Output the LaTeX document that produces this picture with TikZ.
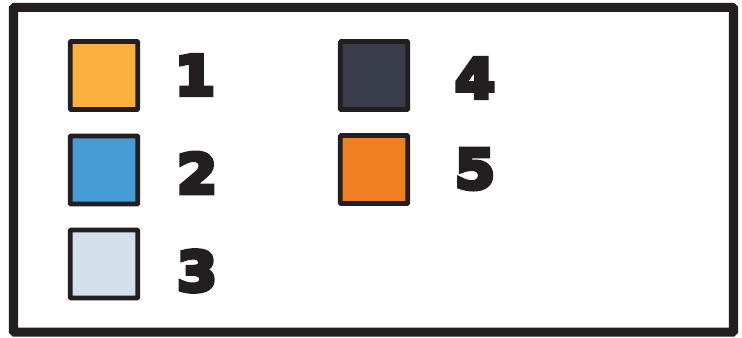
\documentclass[tikz,border=0pt]{standalone}
\usepackage{fontspec}
\newfontfamily\digitfont{DejaVu Sans Bold}[FakeBold=8]
\definecolor{ink}{HTML}{231F20}
\definecolor{cone}{HTML}{FBB040}
\definecolor{ctwo}{HTML}{479BD6}
\definecolor{cthree}{HTML}{D3E0EB}
\definecolor{cfour}{HTML}{393C4A}
\definecolor{cfive}{HTML}{EE7F22}
\newcommand{\heavy}[1]{\scalebox{1.05}[1]{#1}}
\tikzset{
  swatch/.style={draw=ink, line width=3.6pt, rounded corners=0.6pt, minimum width=50.5pt, minimum height=51pt, inner sep=0pt, outer sep=0pt},
  num/.style={font=\digitfont\fontsize{41}{41}\selectfont, text=ink, inner sep=0pt, anchor=center}
}
\begin{document}
\begin{tikzpicture}[x=0.75pt,y=-0.75pt]
\useasboundingbox (0,0) rectangle (742,337);
\fill[white] (0,0) rectangle (742,337);
\node[draw=ink, line width=6.8pt, rounded corners=0.8pt, minimum width=540pt, minimum height=243.5pt, inner sep=0pt] (frame) at (373.5,169.75) {};
\node[swatch, fill=cone] (s1) at (104,75.5) {};
\node[swatch, fill=ctwo] (s2) at (104,170) {};
\node[swatch, fill=cthree] (s3) at (104,264) {};
\node[swatch, fill=cfour] (s4) at (374,75.5) {};
\node[swatch, fill=cfive] (s5) at (374,169.5) {};
\node[num] (n1) at (195,75) {\heavy{1}};
\node[num] (n2) at (197,173) {\heavy{2}};
\node[num] (n3) at (197,271) {\heavy{3}};
\node[num] (n4) at (475,78) {\heavy{4}};
\node[num] (n5) at (475,169) {\heavy{5}};
\end{tikzpicture}
\end{document}
